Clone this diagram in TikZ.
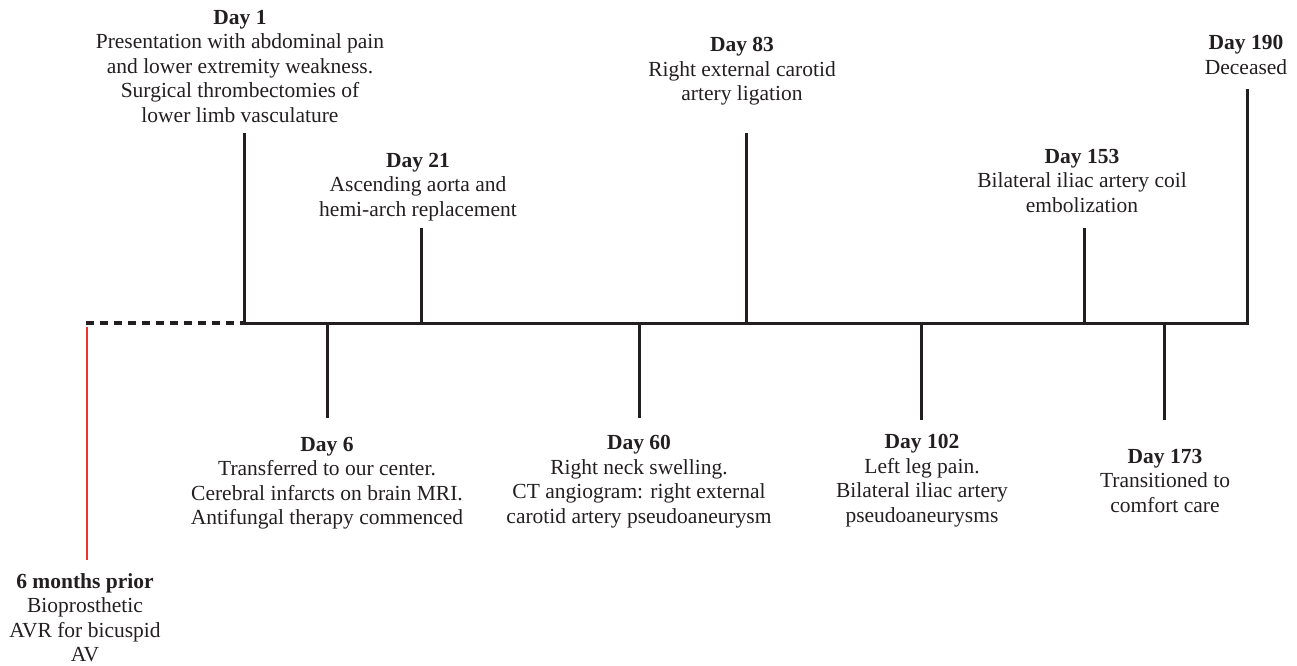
\documentclass[tikz,border=0pt]{standalone}
\usepackage{fontspec}
\setmainfont{Liberation Serif}
\definecolor{ink}{HTML}{231F20}
\definecolor{redline}{HTML}{E8362C}
\begin{document}
\begin{tikzpicture}[x=1pt,y=-1pt,
  evt/.style={align=center,inner sep=0pt,anchor=north,text=ink,
    font={\fontsize{21.5}{24.5}\selectfont}},
  tick/.style={line width=3pt,draw=ink},
  axis/.style={line width=3pt,draw=ink},
  prior/.style={line width=3.6pt,draw=ink,dash pattern=on 8pt off 6pt},
  redtick/.style={line width=2.2pt,draw=redline}]
\useasboundingbox (0,0) rectangle (1297,665);
% axis points
\coordinate (start) at (86,323);
\coordinate (a1) at (244,323);
\coordinate (a6) at (327,323);
\coordinate (a21) at (421,323);
\coordinate (a60) at (639,323);
\coordinate (a83) at (746,323);
\coordinate (a102) at (921,323);
\coordinate (a153) at (1084,323);
\coordinate (a173) at (1164,323);
\coordinate (a190) at (1247,323);
% tick ends
\coordinate (t1) at (244,133);
\coordinate (t21) at (421,228);
\coordinate (t83) at (746,133);
\coordinate (t153) at (1084,228);
\coordinate (t190) at (1247,89);
\coordinate (b6) at (327,418);
\coordinate (b60) at (639,418);
\coordinate (b102) at (921,420);
\coordinate (b173) at (1164,420);
\coordinate (rtop) at (87,327);
\coordinate (rbot) at (87,560);
% lines
\draw[prior] (start) -- (a1);
\draw[axis,line cap=rect] (a1) -- (a190);
\draw[tick] (a1) -- (t1);
\draw[tick] (a21) -- (t21);
\draw[tick] (a83) -- (t83);
\draw[tick] (a153) -- (t153);
\draw[tick] (a190) -- (t190);
\draw[tick] (a6) -- (b6);
\draw[tick] (a60) -- (b60);
\draw[tick] (a102) -- (b102);
\draw[tick] (a173) -- (b173);
\draw[redtick] (rtop) -- (rbot);
% labels
\node[evt] (d1) at (240,10) {\textbf{Day 1}\\Presentation with abdominal pain\\and lower extremity weakness.\\Surgical thrombectomies of\\lower limb vasculature};
\node[evt] (d21) at (418,153) {\textbf{Day 21}\\Ascending aorta and\\hemi-arch replacement};
\node[evt] (d83) at (742,37) {\textbf{Day 83}\\Right external carotid\\artery ligation};
\node[evt] (d153) at (1082,149) {\textbf{Day 153}\\Bilateral iliac artery coil\\embolization};
\node[evt] (d190) at (1246,35) {\textbf{Day 190}\\Deceased};
\node[evt] (d6) at (327,437) {\textbf{Day 6}\\Transferred to our center.\\Cerebral infarcts on brain MRI.\\Antifungal therapy commenced};
\node[evt] (d60) at (639,435) {\textbf{Day 60}\\Right neck swelling.\\CT angiogram: right external\\carotid artery pseudoaneurysm};
\node[evt] (d102) at (922,434) {\textbf{Day 102}\\Left leg pain.\\Bilateral iliac artery\\pseudoaneurysms};
\node[evt] (d173) at (1165,449) {\textbf{Day 173}\\Transitioned to\\comfort care};
\node[evt] (pr) at (85,573) {\textbf{6 months prior}\\Bioprosthetic\\AVR for bicuspid\\AV};
\end{tikzpicture}
\end{document}
